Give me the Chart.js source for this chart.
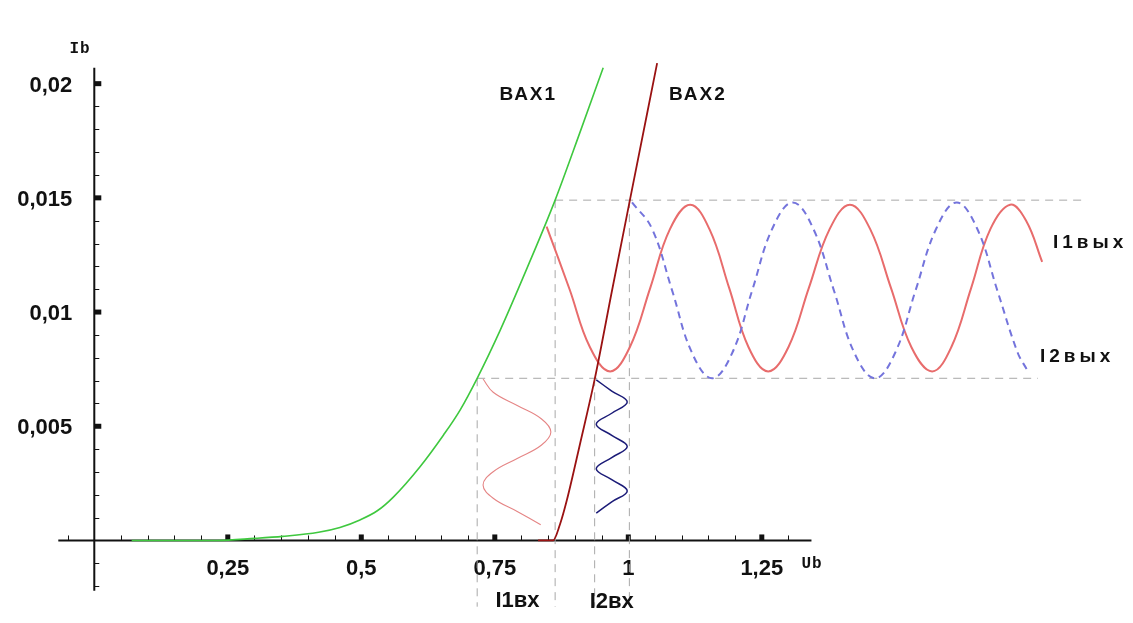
<!DOCTYPE html>
<html>
<head>
<meta charset="utf-8">
<script src="https://cdn.jsdelivr.net/npm/chart.js@4.4.1/dist/chart.umd.min.js"></script>
<style>
  body { margin: 0; background: #fff; }
  #chart { display: block; }
</style>
</head>
<body>
<canvas id="chart" width="1133" height="623"></canvas>
<script>
// ВАХ1 (green)
const vax1X = [0.07, 0.23, 0.30, 0.353, 0.42, 0.46, 0.4975, 0.53, 0.56, 0.61, 0.654, 0.685, 0.717, 0.76, 0.81, 0.863, 0.91, 0.953];
const vax1Y = [0, 0, 0.00009, 0.00018, 0.00036, 0.00057, 0.0009, 0.0013, 0.0019, 0.00323, 0.00462, 0.00571, 0.0071, 0.0092, 0.0119, 0.0149, 0.0179, 0.0207];

// ВАХ2 (dark red)
const vax2X = [0.831, 0.859, 0.872, 0.885, 0.91, 0.937, 0.97, 1.003, 1.054];
const vax2Y = [0, 0, 0.0007, 0.00177, 0.00427, 0.00705, 0.011, 0.0149, 0.0209];

// input signals (drawn along the current axis)
const i1inY = [0.00707, 0.00649, 0.00591, 0.00533, 0.00475, 0.00417, 0.00359, 0.00301, 0.00243, 0.00185, 0.00127, 0.00069];
const i1inX = [0.728, 0.747, 0.792, 0.837, 0.855, 0.837, 0.792, 0.747, 0.728, 0.747, 0.792, 0.836];
const i2inY = [0.00703, 0.00654, 0.00606, 0.00557, 0.00509, 0.0046, 0.00411, 0.00363, 0.00314, 0.00266, 0.00217, 0.00169, 0.0012];
const i2inX = [0.940, 0.969, 0.998, 0.969, 0.940, 0.969, 0.998, 0.969, 0.940, 0.969, 0.998, 0.969, 0.940];

// output signals
const i1outX = [0.847, 0.890, 0.928, 0.966, 1.003, 1.041, 1.078, 1.116, 1.152, 1.189, 1.225, 1.262, 1.300, 1.338, 1.377, 1.415, 1.453, 1.492, 1.530, 1.569, 1.605, 1.642, 1.678, 1.715, 1.745, 1.775];
const i1outY = [0.01374, 0.0110, 0.00847, 0.0074, 0.00847, 0.01105, 0.01363, 0.0147, 0.01363, 0.01105, 0.00847, 0.0074, 0.00847, 0.01105, 0.01363, 0.0147, 0.01363, 0.01105, 0.00847, 0.0074, 0.00847, 0.01105, 0.01363, 0.0147, 0.0140, 0.0122];
const i2outX = [1.007, 1.044, 1.082, 1.119, 1.157, 1.195, 1.232, 1.270, 1.308, 1.346, 1.385, 1.423, 1.462, 1.500, 1.538, 1.577, 1.615, 1.653, 1.691, 1.729, 1.746];
const i2outY = [0.0148, 0.01367, 0.01095, 0.00823, 0.0071, 0.00823, 0.01095, 0.01367, 0.0148, 0.01367, 0.01095, 0.00823, 0.0071, 0.00823, 0.01095, 0.01367, 0.0148, 0.01367, 0.01095, 0.00823, 0.0075];

// dashed guide lines
const guideVX = [0.717, 0.863, 0.937, 1.002];
const guideVTop = [0.0071, 0.0149, 0.0071, 0.0149];
const guideBottom = -0.0029;
const guideHY = [0.0149, 0.0071];
const guideHFrom = [0.863, 0.717];
const guideHTo = [1.85, 1.767];

// axes
const xTickValues = [0.25, 0.5, 0.75, 1, 1.25];
const xTickLabels = ['0,25', '0,5', '0,75', '1', '1,25'];
const yTickValues = [0.005, 0.01, 0.015, 0.02];
const yTickLabels = ['0,005', '0,01', '0,015', '0,02'];

function pts(xs, ys) {
  return xs.map((x, i) => ({ x: x, y: ys[i] }));
}

const datasets = [
  { data: pts(vax1X, vax1Y), borderColor: '#3fc83f', borderWidth: 1.6, cubicInterpolationMode: 'monotone' },
  { data: pts(vax2X, vax2Y), borderColor: '#9a1212', borderWidth: 1.8, cubicInterpolationMode: 'monotone' },
  { data: pts(i2inX, i2inY), borderColor: '#1c1c78', borderWidth: 1.5, tension: 0.4 },
  { data: pts(i1inX, i1inY), borderColor: '#e58585', borderWidth: 1.1, tension: 0.4 },
  { data: pts(i2outX, i2outY), borderColor: '#7474dc', borderWidth: 2, borderDash: [7, 5], tension: 0.4 },
  { data: pts(i1outX, i1outY), borderColor: '#e86c6c', borderWidth: 2, tension: 0.4 }
];
guideVX.forEach((x, i) => {
  datasets.push({ data: [{ x: x, y: guideVTop[i] }, { x: x, y: guideBottom }], borderColor: '#a8a8a8', borderWidth: 1, borderDash: [8, 6] });
});
guideHY.forEach((y, i) => {
  datasets.push({ data: [{ x: guideHFrom[i], y: y }, { x: guideHTo[i], y: y }], borderColor: '#a8a8a8', borderWidth: 1, borderDash: [8, 6] });
});

// axis lines, inward ticks and tick labels
const axesPlugin = {
  id: 'axesPlugin',
  beforeDatasetsDraw(chart) {
    const ctx = chart.ctx;
    const xs = chart.scales.x, ys = chart.scales.y;
    const x0 = xs.getPixelForValue(0), y0 = ys.getPixelForValue(0);
    ctx.save();
    ctx.strokeStyle = '#111';
    ctx.fillStyle = '#111';
    ctx.lineWidth = 2;
    ctx.beginPath();
    ctx.moveTo(xs.getPixelForValue(-0.0674), y0);
    ctx.lineTo(xs.getPixelForValue(1.343), y0);
    ctx.moveTo(x0, ys.getPixelForValue(-0.0022));
    ctx.lineTo(x0, ys.getPixelForValue(0.0207));
    ctx.stroke();

    ctx.lineWidth = 1;
    ctx.beginPath();
    for (let i = -1; i <= 26; i++) {
      if (i === 0) continue;
      const px = Math.round(xs.getPixelForValue(i * 0.05)) + 0.5;
      ctx.moveTo(px, y0);
      ctx.lineTo(px, y0 - 5);
    }
    for (let i = -2; i <= 20; i++) {
      if (i === 0) continue;
      const py = Math.round(ys.getPixelForValue(i * 0.001)) + 0.5;
      ctx.moveTo(x0, py);
      ctx.lineTo(x0 + 5, py);
    }
    ctx.stroke();

    xTickValues.forEach(v => {
      const px = xs.getPixelForValue(v);
      ctx.fillRect(px - 2.5, y0 - 6, 5, 6);
    });
    yTickValues.forEach(v => {
      const py = ys.getPixelForValue(v);
      ctx.fillRect(x0, py - 2.5, 7, 5);
    });

    ctx.font = 'bold 22px "Liberation Sans", Arial, sans-serif';
    ctx.textBaseline = 'alphabetic';
    ctx.textAlign = 'center';
    xTickValues.forEach((v, i) => {
      ctx.fillText(xTickLabels[i], xs.getPixelForValue(v), y0 + 34.5);
    });
    ctx.textAlign = 'right';
    yTickValues.forEach((v, i) => {
      ctx.fillText(yTickLabels[i], x0 - 22, ys.getPixelForValue(v) + 8);
    });
    ctx.restore();
  },
  afterDatasetsDraw(chart) {
    const ctx = chart.ctx;
    const xs = chart.scales.x, ys = chart.scales.y;
    const notes = [
      { t: 'Ib', x: -0.0268, y: 0.02134, font: 'bold 16px "Liberation Mono", monospace', align: 'center', sp: '1px' },
      { t: 'Ub', x: 1.344, y: -0.0012, font: 'bold 16px "Liberation Mono", monospace', align: 'center', sp: '1px' },
      { t: 'ВАХ1', x: 0.8667, y: 0.01929, font: 'bold 19px "Liberation Sans", Arial, sans-serif', align: 'right', sp: '2px' },
      { t: 'ВАХ2', x: 1.0762, y: 0.01929, font: 'bold 19px "Liberation Sans", Arial, sans-serif', align: 'left', sp: '2px' },
      { t: 'I1вых', x: 1.7953, y: 0.0128, font: 'bold 19px "Liberation Sans", Arial, sans-serif', align: 'left', sp: '4px' },
      { t: 'I2вых', x: 1.771, y: 0.00783, font: 'bold 19px "Liberation Sans", Arial, sans-serif', align: 'left', sp: '4px' },
      { t: 'I1вх', x: 0.7925, y: -0.0029, font: 'bold 22px "Liberation Sans", Arial, sans-serif', align: 'center', sp: '0px' },
      { t: 'I2вх', x: 0.969, y: -0.00297, font: 'bold 22px "Liberation Sans", Arial, sans-serif', align: 'center', sp: '0px' }
    ];
    ctx.save();
    ctx.fillStyle = '#111';
    ctx.textBaseline = 'alphabetic';
    notes.forEach(n => {
      ctx.font = n.font;
      ctx.textAlign = n.align;
      ctx.letterSpacing = n.sp;
      ctx.fillText(n.t, xs.getPixelForValue(n.x), ys.getPixelForValue(n.y));
    });
    ctx.restore();
  }
};

new Chart(document.getElementById('chart'), {
  type: 'line',
  data: { datasets: datasets },
  options: {
    responsive: false,
    animation: false,
    events: [],
    layout: { padding: { left: 58.3, right: 24.1, top: 49.4, bottom: 2.6 } },
    elements: { point: { radius: 0 } },
    plugins: { legend: { display: false }, tooltip: { enabled: false } },
    scales: {
      x: { type: 'linear', min: -0.0674, max: 1.9, display: false },
      y: { type: 'linear', min: -0.0035, max: 0.0215, display: false }
    }
  },
  plugins: [axesPlugin]
});
</script>
</body>
</html>
